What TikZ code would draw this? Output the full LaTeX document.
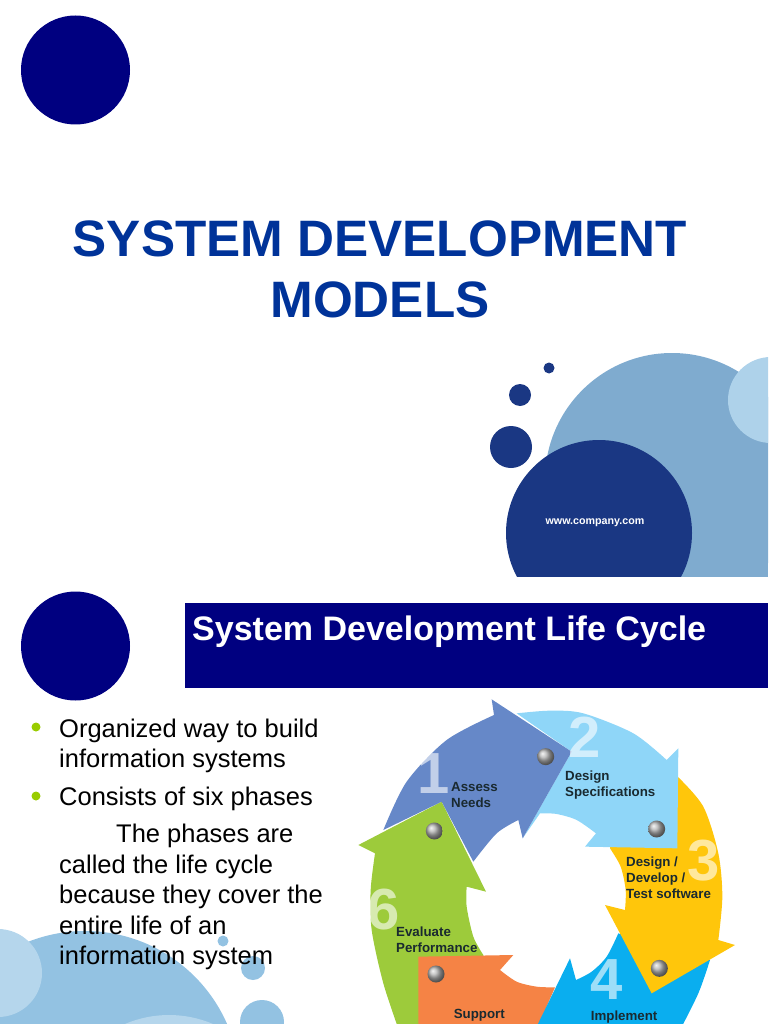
\documentclass[tikz,border=0pt]{standalone}
\usepackage{fontspec}
\setmainfont{Liberation Sans}
\definecolor{navy}{HTML}{000080}
\definecolor{titleblue}{HTML}{003399}
\definecolor{darkb}{HTML}{1A3783}
\definecolor{midb}{HTML}{7FABCF}
\definecolor{paleb}{HTML}{AED2EA}
\definecolor{lowb}{HTML}{93C2E2}
\definecolor{lowp}{HTML}{B5D6EC}
\definecolor{lime}{HTML}{99CC00}
\definecolor{aone}{HTML}{6688C8}
\definecolor{atwo}{HTML}{8FD6F8}
\definecolor{athree}{HTML}{FFC60B}
\definecolor{afour}{HTML}{0AAEEF}
\definecolor{afive}{HTML}{F58345}
\definecolor{asix}{HTML}{9DCB3B}
\definecolor{labelc}{HTML}{1A2A30}
\tikzset{
  titletext/.style={font=\fontsize{51.2}{60}\selectfont\bfseries,text=titleblue,inner sep=0pt,anchor=base},
  bodytext/.style={font=\fontsize{25.5}{30}\selectfont,text=black,inner sep=0pt,anchor=base west},
  steplabel/.style={font=\fontsize{13.3}{15.5}\selectfont\bfseries,text=labelc,inner sep=0pt,anchor=base west},
  stepnum/.style={font=\fontsize{58}{66}\selectfont\bfseries,text=white,text opacity=0.6,inner sep=0pt,anchor=center},
  metal/.style={circle,minimum size=17pt,inner sep=0pt,ball color=gray!60},
  bullet/.style={circle,minimum size=9pt,inner sep=0pt,fill=lime}
}
\begin{document}
\begin{tikzpicture}[x=1pt,y=-1pt]
\useasboundingbox (0,0) rectangle (768,1024);
\clip (0,0) rectangle (768,1024);
% first slide
\fill[navy] (75.5,70) circle[radius=54.5];
\begin{scope}
  \clip (0,0) rectangle (768,576);
  \fill[midb] (672,480) circle[radius=127];
  \fill[midb] (672,480) rectangle (768,585);
  \fill[paleb] (771,400) circle[radius=43];
  \fill[darkb] (599,533) circle[radius=93];
\end{scope}
\fill[darkb] (549,368) circle[radius=5.5];
\fill[darkb] (520,395) circle[radius=11];
\fill[darkb] (511,447) circle[radius=21];
\node[titletext] (t1) at (380,256.5) {SYSTEM DEVELOPMENT};
\node[titletext] (t2) at (380,317) {MODELS};
\node[font=\fontsize{10.7}{12}\selectfont\bfseries,text=white,inner sep=0pt] (url) at (595,523) {www.company.com};
% second slide
\fill[navy] (75.5,646) circle[radius=54.5];
\fill[navy] (185,603) rectangle (768,688);
\node[font=\fontsize{34}{40}\selectfont\bfseries,text=white,inner sep=0pt,anchor=base west] (t3) at (192,640) {System Development Life Cycle};
\fill[lowb] (85,1086) circle[radius=155];
\fill[lowp] (-2,973) circle[radius=44];
\fill[lowp] (169,1127) circle[radius=112];
\fill[lowb] (223,941) circle[radius=5.5];
\fill[lowb] (253,968) circle[radius=12];
\fill[lowb] (262,1022) circle[radius=22];
\node[bullet] (b1) at (36,727) {};
\node[bullet] (b2) at (36,796) {};
\node[bodytext] (l1) at (59,737) {Organized way to build};
\node[bodytext] (l2) at (59,767) {information systems};
\node[bodytext] (l3) at (59,805) {Consists of six phases};
\node[bodytext] (l4) at (116,842) {The phases are};
\node[bodytext] (l5) at (59,873) {called the life cycle};
\node[bodytext] (l6) at (59,903) {because they cover the};
\node[bodytext] (l7) at (59,934) {entire life of an};
\node[bodytext] (l8) at (59,964) {information system};
% cycle
\begin{scope}[shift={(350pt,-690pt)},x=0.33333pt,y=-0.33333pt]
  \fill[asix] (275,335) -- (408,605) -- (350,590) -- plot[smooth] coordinates {(350,590) (350,650) (370,740) (400,795)}
     -- (420,900) -- (205,1030) -- (150,1030) -- plot[smooth] coordinates {(150,1030) (100,880) (65,720) (62,600) (75,490)} -- (25,465) -- cycle;
  \fill[afive] (205,800) -- (490,795) -- (450,840) -- plot[smooth] coordinates {(450,840) (500,875) (560,890) (615,892)} -- (555,1030) -- (205,1030) -- cycle;
  \fill[afour] (550,1030) -- (660,805) -- (678,870) -- plot[smooth] coordinates {(678,870) (725,845) (770,800) (805,730)}
     -- (1000,800) -- (1080,810) -- plot[smooth] coordinates {(1080,810) (1045,910) (985,1030)} -- cycle;
  \fill[athree] (985,262) -- plot[smooth] coordinates {(985,262) (1060,350) (1105,490) (1117,620) (1105,750)} -- (1155,765) -- (905,910) -- (765,645) -- (825,660)
     -- plot[smooth] coordinates {(825,660) (827,600) (812,530) (780,475)} -- (780,400) -- cycle;
  \fill[atwo] (500,70) -- plot[smooth] coordinates {(500,70) (600,62) (700,70) (850,130) (950,210)} -- (985,175) -- (982,475) -- (705,470) -- (738,430)
     -- plot[smooth] coordinates {(738,430) (680,390) (620,372) (570,370)} -- (518,445) -- (665,185) -- cycle;
  \fill[aone] (100,420) -- plot[smooth] coordinates {(100,420) (170,275) (290,150) (432,75)} -- (425,28) -- (665,185) -- (518,445) -- (505,390)
     -- plot[smooth] coordinates {(505,390) (440,430) (370,515)} -- (275,335) -- cycle;
  \node[stepnum] (n1) at (252,250) {1};
  \node[stepnum] (n2) at (705,142) {2};
  \node[stepnum] (n3) at (1062,512) {3};
  \node[stepnum] (n4) at (770,868) {4};
  \node[stepnum] (n6) at (100,660) {6};
  \node[metal] (m1) at (587,200) {};
  \node[metal] (m2) at (920,417) {};
  \node[metal] (m3) at (928,835) {};
  \node[metal] (m4) at (258,852) {};
  \node[metal] (m5) at (253,423) {};
  \node[steplabel] (s1a) at (303,304) {Assess};
  \node[steplabel] (s1b) at (303,352) {Needs};
  \node[steplabel] (s2a) at (645,270) {Design};
  \node[steplabel] (s2b) at (645,318) {Specifications};
  \node[steplabel] (s3a) at (828,530) {Design /};
  \node[steplabel] (s3b) at (828,578) {Develop /};
  \node[steplabel] (s3c) at (828,626) {Test software};
  \node[steplabel] (s6a) at (138,738) {Evaluate};
  \node[steplabel] (s6b) at (138,786) {Performance};
  \node[steplabel] (s5) at (311,985) {Support};
  \node[steplabel] (s4) at (722,992) {Implement};
\end{scope}
\end{tikzpicture}
\end{document}
